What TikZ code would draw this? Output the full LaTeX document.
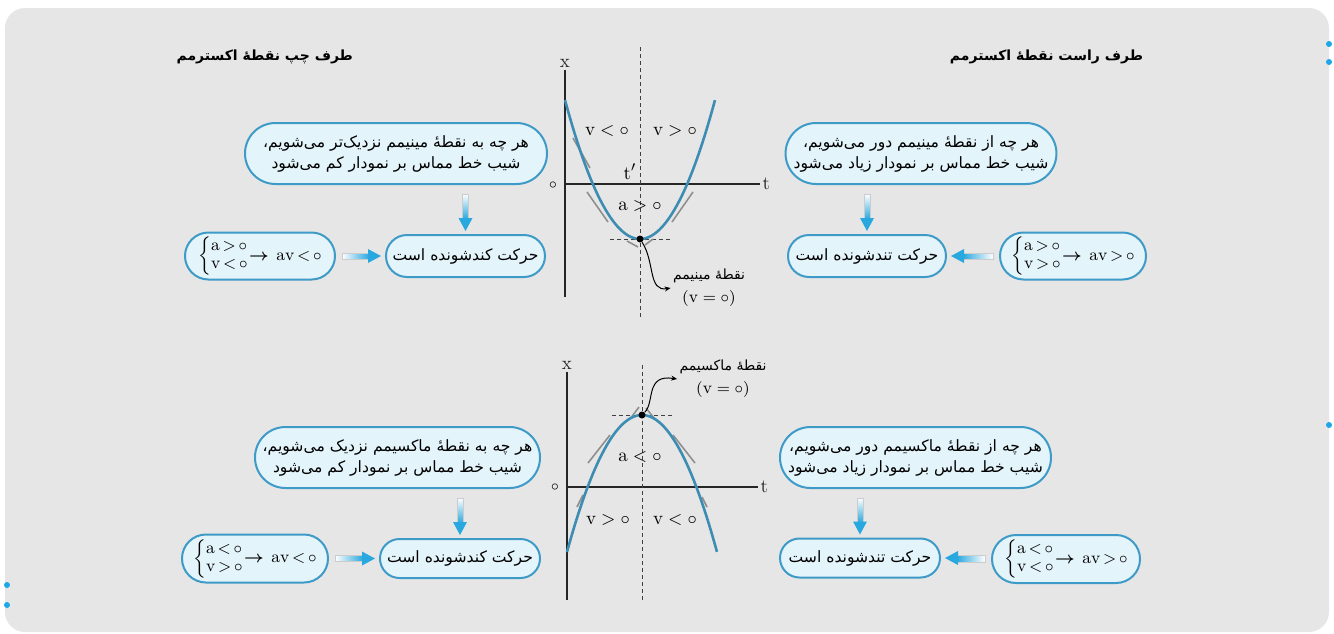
\documentclass[tikz,border=0pt]{standalone}
\usepackage{amsmath}
\usepackage{fontspec}
\usetikzlibrary{calc, shapes.misc, arrows.meta}
\newfontfamily\fa[Script=Arabic]{DejaVu Sans}
\TeXXeTstate=1
\definecolor{bggray}{RGB}{230,230,230}
\definecolor{bubblefill}{RGB}{228,244,251}
\definecolor{bubbleline}{RGB}{62,154,198}
\definecolor{arrowblue}{RGB}{41,168,223}
\definecolor{curveblue}{RGB}{61,141,179}
\definecolor{tangentgray}{RGB}{143,143,143}
\definecolor{dotblue}{RGB}{30,167,232}
\newcommand{\avsign}[3]{$\left\{\renewcommand{\arraystretch}{1}\begin{array}{@{}l@{}}\mathrm{a}\,{#1}\,\circ\\ \mathrm{v}\,{#2}\,\circ\end{array}\right.\!\!\boldsymbol{\rightarrow}\,\mathrm{av}\,{#3}\,\circ$}

\begin{document}
\begin{tikzpicture}[x=0.5pt, y=-0.5pt,
  bubble/.style={rounded rectangle, draw=bubbleline, fill=bubblefill, line width=1pt, inner sep=1pt, align=center},
  fatext/.style={font=\fa\fontsize{7.8}{10.5}\selectfont},
  condtext/.style={font=\fontsize{8.5}{9}\selectfont},
  heading/.style={font=\fa\bfseries\fontsize{7}{9}\selectfont},
  mathlbl/.style={font=\fontsize{9.5}{11}\selectfont, inner sep=1pt},
  axis/.style={line width=0.7pt, black!85},
  guide/.style={black!75, line width=0.5pt, dash pattern=on 2pt off 1.5pt},
  curve/.style={line width=1.3pt, curveblue},
  tangent/.style={line width=0.8pt, tangentgray},
  extremum/.style={circle, fill=black, inner sep=0pt, minimum size=3.5pt},
  pointer/.style={line width=0.5pt, -{Stealth[length=3pt, width=2.5pt]}},
  ptlabel/.style={align=center, font=\fa\fontsize{7}{11.5}\selectfont, inner sep=1pt}]
  \useasboundingbox (0,0) rectangle (1334,633);
  % background card
  \fill[bggray, rounded corners=10pt] (5,8) rectangle (1329,632);
  \foreach \p in {(1329,44), (1329,62), (1329,425), (7,585), (7,605)}
    \fill[dotblue] \p circle (3);

  % headings
  \node[heading, anchor=east] (lefthead) at (360,57) {\beginR طرف چپ نقطهٔ اکسترمم\endR};
  \node[heading, anchor=east] (righthead) at (1150,57) {\beginR طرف راست نقطهٔ اکسترمم\endR};

  % --- minimum: bubbles ---
  \node[bubble, fatext, minimum width=153pt, minimum height=30.5pt] (tlbig) at (396,153.5)
    {\beginR هر چه به نقطهٔ مینیمم نزدیک‌تر می‌شویم،\endR\\\beginR شیب خط مماس بر نمودار کم می‌شود\endR};
  \node[bubble, fatext, minimum width=81.5pt, minimum height=21pt] (tlres) at (465.5,256)
    {\beginR حرکت کندشونده است\endR};
  \node[bubble, condtext, minimum width=77pt, minimum height=23.5pt] (tlcond) at (260,256) {\avsign{>}{<}{<}};
  \node[bubble, fatext, minimum width=135pt, minimum height=30.5pt] (trbig) at (921,153.5)
    {\beginR هر چه از نقطهٔ مینیمم دور می‌شویم،\endR\\\beginR شیب خط مماس بر نمودار زیاد می‌شود\endR};
  \node[bubble, fatext, minimum width=81pt, minimum height=21pt] (trres) at (867,256)
    {\beginR حرکت تندشونده است\endR};
  \node[bubble, condtext, minimum width=75pt, minimum height=23.5pt] (trcond) at (1073,256) {\avsign{>}{>}{>}};

  % --- maximum: bubbles ---
  \node[bubble, fatext, minimum width=144.5pt, minimum height=30.5pt] (blbig) at (397.5,457.5)
    {\beginR هر چه به نقطهٔ ماکسیمم نزدیک می‌شویم،\endR\\\beginR شیب خط مماس بر نمودار کم می‌شود\endR};
  \node[bubble, fatext, minimum width=82pt, minimum height=19.5pt] (blres) at (460,558.5)
    {\beginR حرکت کندشونده است\endR};
  \node[bubble, condtext, minimum width=75pt, minimum height=24pt] (blcond) at (255,558.5) {\avsign{<}{>}{<}};
  \node[bubble, fatext, minimum width=137.5pt, minimum height=30.5pt] (brbig) at (915.5,457.5)
    {\beginR هر چه از نقطهٔ ماکسیمم دور می‌شویم،\endR\\\beginR شیب خط مماس بر نمودار زیاد می‌شود\endR};
  \node[bubble, fatext, minimum width=82pt, minimum height=19.5pt] (brres) at (860,558)
    {\beginR حرکت تندشونده است\endR};
  \node[bubble, condtext, minimum width=76pt, minimum height=24pt] (brcond) at (1066,559) {\avsign{<}{<}{>}};

  % fat arrows
  \foreach \from/\to in {tlbig/tlres, trbig/trres, blbig/blres, brbig/brres}{
    \coordinate (s) at ($(\from.south -| \to.north)+(0,9)$);
    \coordinate (e) at ($(\to.north)+(0,-3)$);
    \shade[top color=white, bottom color=arrowblue, draw=gray!40, line width=0.3pt] ($(s)+(-3,0)$) rectangle ($(e)+(3,-12)$);
    \fill[arrowblue] ($(e)+(-7,-13)$) -- ($(e)+(7,-13)$) -- (e) -- cycle;
  }
  \foreach \from/\to in {tlcond/tlres, blcond/blres}{
    \coordinate (s) at ($(\from.east)+(6,0)$);
    \coordinate (e) at ($(\to.west)+(-4,0)$);
    \shade[left color=white, right color=arrowblue, draw=gray!40, line width=0.3pt] ($(s)+(0,-3)$) rectangle ($(e)+(-12,3)$);
    \fill[arrowblue] ($(e)+(-13,-7)$) -- ($(e)+(-13,7)$) -- (e) -- cycle;
  }
  \foreach \from/\to in {trcond/trres, brcond/brres}{
    \coordinate (s) at ($(\from.west)+(-6,0)$);
    \coordinate (e) at ($(\to.east)+(4,0)$);
    \shade[left color=arrowblue, right color=white, draw=gray!40, line width=0.3pt] ($(e)+(12,-3)$) rectangle ($(s)+(0,3)$);
    \fill[arrowblue] ($(e)+(13,-7)$) -- ($(e)+(13,7)$) -- (e) -- cycle;
  }

  % --- graph of minimum ---
  \draw[axis] (565,297) -- (565,70) node[mathlbl, above] {$\mathrm{x}$};
  \draw[axis] (565,184) -- (760,184) node[mathlbl, right] {$\mathrm{t}$};
  \node[mathlbl, font=\scriptsize] at (553,185) {$\circ$};
  \draw[guide] (640,47) -- (640,320);
  \draw[guide] (610,239) -- (670,239);
  \draw[tangent] (573,138) -- (590,168);
  \draw[tangent] (587,192) -- (608,222);
  \draw[tangent] (627,241) -- (638,247);
  \draw[tangent] (645,245) -- (653,239);
  \draw[tangent] (672,222) -- (693,192);
  \draw[curve, domain=-1:1, samples=60] plot ({640+75*\x}, {239-139*\x*\x});
  \node[extremum] (minpt) at (640,239) {};
  \node[mathlbl] at (607,131) {$\mathrm{v}<\circ$};
  \node[mathlbl] at (675,131) {$\mathrm{v}>\circ$};
  \node[mathlbl] at (630,172) {$\mathrm{t}'$};
  \node[mathlbl] at (640,206) {$\mathrm{a}>\circ$};
  \node[ptlabel] (minlbl) at (709,288) {\beginR نقطهٔ مینیمم\endR\\{\fontsize{8.5}{9}\selectfont$(\mathrm{v}=\circ)$}};
  \draw[pointer] (minpt) .. controls (655,262) and (648,292) .. (minlbl.west);

  % --- graph of maximum ---
  \draw[axis] (567,600) -- (567,372) node[mathlbl, above] {$\mathrm{x}$};
  \draw[axis] (567,487) -- (758,487) node[mathlbl, right] {$\mathrm{t}$};
  \node[mathlbl, font=\scriptsize] at (555,487) {$\circ$};
  \draw[guide] (642,365) -- (642,603);
  \draw[guide] (612,415) -- (672,415);
  \draw[tangent] (630,419) -- (639,407);
  \draw[tangent] (646,408) -- (654,418);
  \draw[tangent] (588,463) -- (610,435);
  \draw[tangent] (577,507) -- (583,495);
  \draw[tangent] (673,435) -- (695,463);
  \draw[tangent] (702,497) -- (707,507);
  \draw[curve, domain=-1:1, samples=60] plot ({642+75*\x}, {415+137*\x*\x});
  \node[extremum] (maxpt) at (642,415) {};
  \node[mathlbl] at (640,457) {$\mathrm{a}<\circ$};
  \node[mathlbl] at (608,520) {$\mathrm{v}>\circ$};
  \node[mathlbl] at (675,520) {$\mathrm{v}<\circ$};
  \node[ptlabel] (maxlbl) at (723,379) {\beginR نقطهٔ ماکسیمم\endR\\{\fontsize{8.5}{9}\selectfont$(\mathrm{v}=\circ)$}};
  \draw[pointer] (maxpt) .. controls (655,402) and (645,374) .. (maxlbl.west);
\end{tikzpicture}
\end{document}
